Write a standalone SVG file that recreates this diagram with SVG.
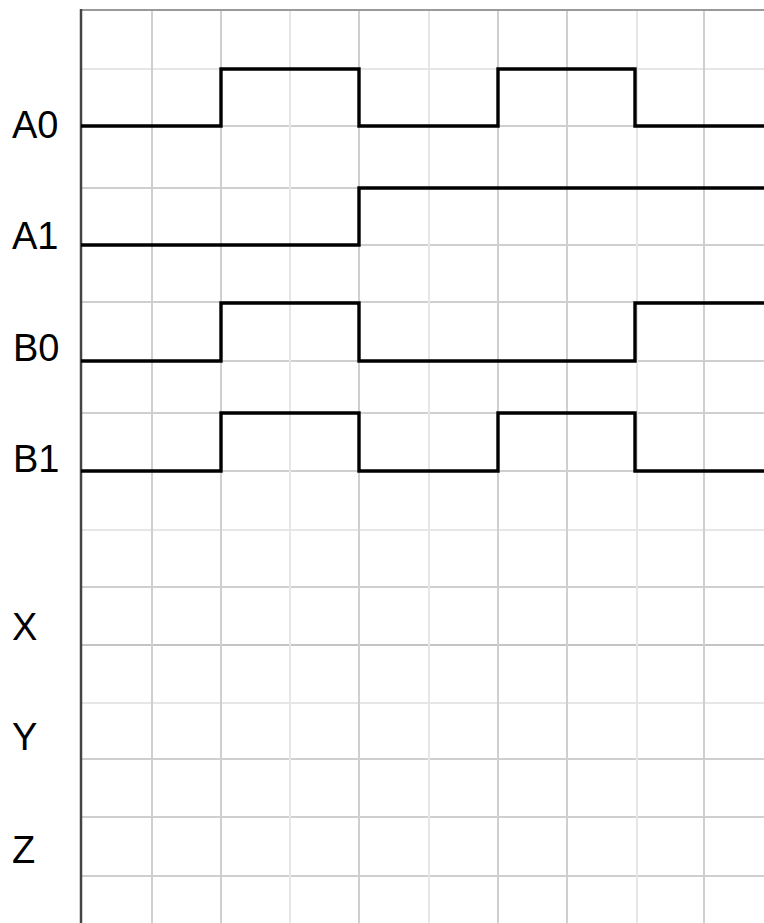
<svg xmlns="http://www.w3.org/2000/svg" width="764" height="923" viewBox="0 0 764 923">
<style>
.g{stroke:#cfcfcf;stroke-width:2;fill:none}
.gl{stroke:#e6e6e6;stroke-width:2;fill:none}
.sig{stroke:#000;stroke-width:3.4;fill:none;stroke-linejoin:miter}
.lbl{font-family:"Liberation Sans",Arial,sans-serif;font-size:38px;fill:#000}
</style>
<rect width="764" height="923" fill="#fff"/>
<g id="grid">
<line class="gl" x1="81" y1="69" x2="764" y2="69"/>
<line class="g" x1="81" y1="126" x2="764" y2="126"/>
<line class="g" x1="81" y1="188" x2="764" y2="188"/>
<line class="g" x1="81" y1="245" x2="764" y2="245"/>
<line class="g" x1="81" y1="302" x2="764" y2="302"/>
<line class="g" x1="81" y1="361" x2="764" y2="361"/>
<line class="g" x1="81" y1="413" x2="764" y2="413"/>
<line class="g" x1="81" y1="471" x2="764" y2="471"/>
<line class="gl" x1="81" y1="530" x2="764" y2="530"/>
<line class="g" x1="81" y1="587" x2="764" y2="587"/>
<line class="g" x1="81" y1="645" x2="764" y2="645" style="stroke:#c4c4c4"/>
<line class="gl" x1="81" y1="703" x2="764" y2="703"/>
<line class="g" x1="81" y1="759" x2="764" y2="759"/>
<line class="g" x1="81" y1="817" x2="764" y2="817"/>
<line class="g" x1="81" y1="876" x2="764" y2="876"/>
<line class="g" x1="152" y1="10" x2="152" y2="923"/>
<line class="g" x1="221" y1="10" x2="221" y2="923"/>
<line class="gl" x1="290" y1="10" x2="290" y2="923"/>
<line class="g" x1="359" y1="10" x2="359" y2="923"/>
<line class="gl" x1="429" y1="10" x2="429" y2="923"/>
<line class="g" x1="498" y1="10" x2="498" y2="923"/>
<line class="g" x1="567" y1="10" x2="567" y2="923"/>
<line class="gl" x1="637" y1="10" x2="637" y2="923"/>
<line class="g" x1="704" y1="10" x2="704" y2="923"/>
<line x1="80" y1="10" x2="764" y2="10" stroke="#9a9a9a" stroke-width="2"/>
<line x1="81" y1="9" x2="81" y2="923" stroke="#444" stroke-width="2.5"/>
</g>
<g id="connectors">
<path id="sig-A0" class="sig" d="M81 126H221V69H359V126H498V69H635V126H764"/>
<path id="sig-A1" class="sig" d="M81 245H359V188H764"/>
<path id="sig-B0" class="sig" d="M81 361H221V303H359V361H635V303H764"/>
<path id="sig-B1" class="sig" d="M81 471H221V413H359V471H498V413H635V471H764"/>
</g>
<g id="A0"><text class="lbl" x="12" y="138">A0</text></g>
<g id="A1"><text class="lbl" x="12" y="249">A1</text></g>
<g id="B0"><text class="lbl" x="13" y="361">B0</text></g>
<g id="B1"><text class="lbl" x="13" y="472">B1</text></g>
<g id="X"><text class="lbl" x="12" y="640">X</text></g>
<g id="Y"><text class="lbl" x="12" y="750">Y</text></g>
<g id="Z"><text class="lbl" x="12" y="863">Z</text></g>
</svg>
